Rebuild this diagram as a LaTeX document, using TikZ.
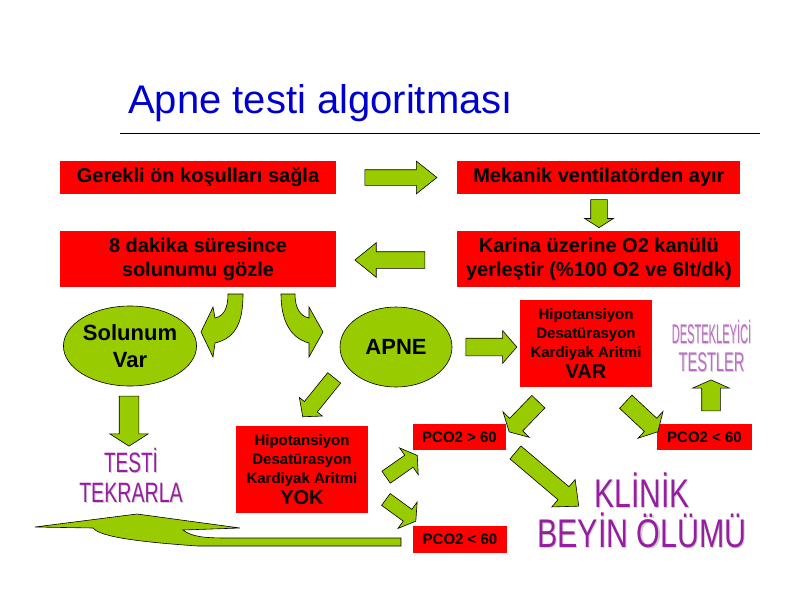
\documentclass[tikz,border=0pt]{standalone}
\usepackage{fontspec}
\setmainfont{Liberation Sans}
\usetikzlibrary{positioning,shapes.geometric,shapes.arrows}
\definecolor{myred}{RGB}{255,0,0}
\definecolor{mygreen}{RGB}{153,204,0}
\definecolor{myblue}{RGB}{0,0,204}
\definecolor{mypurple}{RGB}{150,30,160}
\definecolor{mylilac}{RGB}{190,110,200}
\definecolor{myshadow}{RGB}{210,205,210}
% word art text: colour, horizontal scale, text
\newcommand{\wordart}[3]{%
  \scalebox{#2}[1]{\rlap{\hspace{1.5pt}\raisebox{-1.2pt}{\color{myshadow}#3}}\color{#1}#3}}

\begin{document}
\begin{tikzpicture}[x=1pt,y=-1pt,
  rbox/.style={rectangle,fill=myred,inner sep=0pt,align=center,
    font=\bfseries\fontsize{20}{24}\selectfont},
  sbox/.style={rbox,font=\bfseries\fontsize{15}{19}\selectfont},
  gell/.style={ellipse,draw,fill=mygreen,inner sep=0pt,line width=0.6pt,
    minimum width=114pt,minimum height=80pt,align=center,
    font=\bfseries\fontsize{22}{27}\selectfont},
  garr/.style n args={5}{single arrow,draw,fill=mygreen,line width=0.6pt,
    inner sep=0pt,minimum height=#1,inner ysep=#2,
    single arrow head extend=#3,single arrow tip angle=#4,rotate=#5},
  gshape/.style={draw,fill=mygreen,line width=0.6pt},
  wart/.style={anchor=base,inner sep=0pt,align=center}]

  \useasboundingbox (0,0) rectangle (800,600);

  % title
  \node[anchor=base west,inner sep=0pt,text=myblue,
    font=\fontsize{40}{40}\selectfont] (title) at (128,113) {Apne testi algoritması};
  \draw[line width=0.8pt] (120,133) -- (760,133);

  % red boxes
  \node[rbox,minimum width=276pt,minimum height=33pt] (box1) at (198,177.5)
    {Gerekli ön koşulları sağla};
  \node[rbox,minimum width=283pt,minimum height=33pt,right=121pt of box1] (box2)
    {Mekanik ventilatörden ayır};
  \node[rbox,minimum width=276pt,minimum height=56pt,below=37pt of box1] (box3)
    {8 dakika süresince\\solunumu gözle};
  \node[rbox,minimum width=283pt,minimum height=56pt,below=37pt of box2] (box4)
    {Karina üzerine O2 kanülü\\yerleştir (\%100 O2 ve 6lt/dk)};

  \node[gell] (solvar) at (130,346) {Solunum\\Var};
  \node[gell,minimum width=112pt] (apne) at (396,347) {APNE};

  \node[sbox,minimum width=132pt,minimum height=87pt] (var) at (586,343.5)
    {Hipotansiyon\\Desatürasyon\\Kardiyak Aritmi\\[2pt]{\fontsize{20}{22}\selectfont VAR}};
  \node[sbox,minimum width=132pt,minimum height=87pt] (yok) at (302,469.5)
    {Hipotansiyon\\Desatürasyon\\Kardiyak Aritmi\\[2pt]{\fontsize{20}{22}\selectfont YOK}};

  \node[sbox,minimum width=93pt,minimum height=26pt] (pcoa) at (459.5,437) {PCO2 > 60};
  \node[sbox,minimum width=95pt,minimum height=26pt] (pcob) at (704.5,437) {PCO2 < 60};
  \node[sbox,minimum width=94pt,minimum height=27pt] (pcoc) at (460,539.5) {PCO2 < 60};

  % word art (anchored at the last line)
  \node[wart,font=\fontsize{28}{30}\selectfont] (testi) at (131,502)
    {\wordart{mypurple}{0.68}{TESTİ}\\\wordart{mypurple}{0.7}{TEKRARLA}};
  \node[wart,font=\fontsize{27}{28}\selectfont] (destek) at (711.5,371)
    {\wordart{mylilac}{0.41}{DESTEKLEYİCİ}\\\wordart{mylilac}{0.54}{TESTLER}};
  \node[wart,font=\fontsize{40}{40}\selectfont] (klinik) at (642,547)
    {\wordart{mypurple}{0.75}{KLİNİK}\\\wordart{mypurple}{0.76}{BEYİN ÖLÜMÜ}};

  % block arrows
  \node[garr={72pt}{7.5pt}{8.5pt}{77}{0}] (ar1) at (396,177.5) {};
  \node[garr={28pt}{8pt}{6pt}{115}{-90}] (ar2) at (599,211) {};
  \node[garr={70pt}{8pt}{9pt}{78}{180}] (ar3) at (395,260) {};
  \node[garr={50pt}{9.5pt}{9.5pt}{115}{-90}] (ar4) at (129,418) {};
  \node[garr={51pt}{8.5pt}{7.5pt}{98}{0}] (ar5) at (487.5,347) {};
  \node[garr={50pt}{8pt}{6.5pt}{98}{-129}] (ar6) at (320.75,394.5) {};
  \node[garr={42pt}{8.75pt}{9.25pt}{122}{-134}] (ar7) at (525.5,415) {};
  \node[garr={44pt}{8.75pt}{9.25pt}{122}{-43}] (ar8) at (640,415) {};
  \node[garr={38pt}{7pt}{9pt}{116}{35}] (ar9) at (399.8,467.6) {};
  \node[garr={37pt}{7pt}{9pt}{116}{-36}] (ar10) at (399,509) {};
  \node[garr={83pt}{8.2pt}{9.5pt}{84}{-40.3}] (ar11) at (543.5,476.25) {};
  \node[garr={31pt}{9pt}{9pt}{132}{90}] (ar12) at (711,397.5) {};

  % curved arrows below box3
  \filldraw[gshape] (228,294) -- (243,294) .. controls (243,322) and (236,338) .. (215,343)
    -- (213,357) -- (201,332) -- (213,307) -- (215,318)
    .. controls (224,316) and (228,308) .. (228,294) -- cycle;
  \filldraw[gshape] (295,294) -- (281,294) .. controls (281,320) and (290,338) .. (309,343)
    -- (309,357) -- (323,332) -- (309,307) -- (309,318)
    .. controls (300,316) and (295,308) .. (295,294) -- cycle;

  % return arrow at the bottom
  \filldraw[gshape] (35,527) -- (137,514) -- (240,528) -- (183,530)
    .. controls (192,537) and (205,538) .. (228,538) -- (401,538) -- (401,546) -- (198,546)
    .. controls (140,542) and (100,537) .. (93,528) -- cycle;

\end{tikzpicture}
\end{document}
